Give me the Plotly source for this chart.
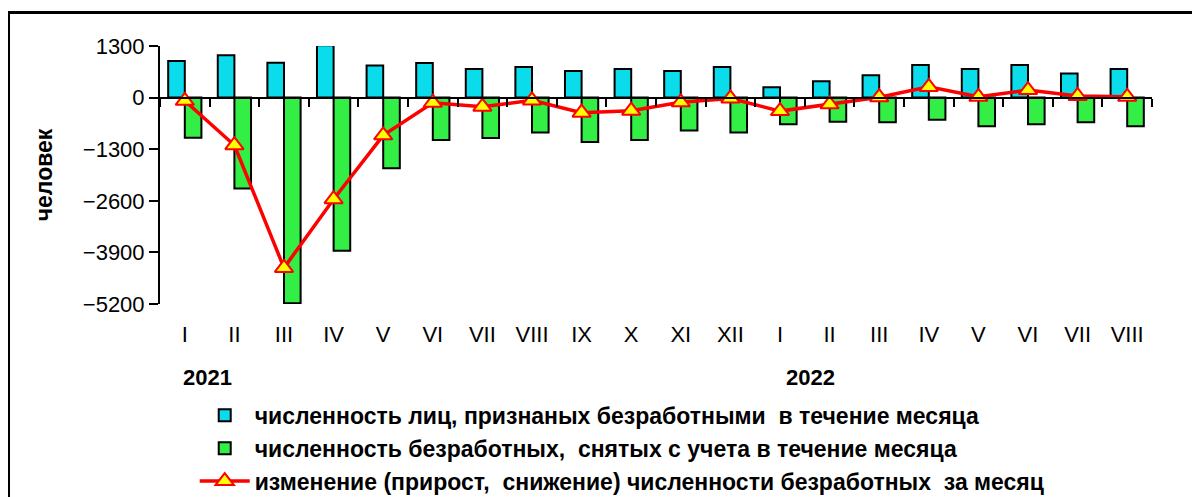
import plotly.graph_objects as go

months = ["I", "II", "III", "IV", "V", "VI", "VII", "VIII", "IX", "X", "XI", "XII",
          "I", "II", "III", "IV", "V", "VI", "VII", "VIII"]
years = ["2021", "2022"]

registered = [920, 1070, 880, 1320, 810, 870, 720, 770, 670, 720, 670, 770,
              260, 410, 560, 820, 720, 820, 610, 720]
removed = [-1010, -2290, -5180, -3860, -1780, -1070, -1020, -880, -1120, -1070, -830, -880,
           -670, -610, -620, -560, -720, -670, -620, -720]
change = [-80, -1200, -4290, -2560, -950, -130, -230, -70, -380, -330, -120, -20,
          -340, -170, 10, 270, 20, 190, 40, 20]

name_reg = "численность лиц, признаных безработными  в течение месяца"
name_rem = "численность безработных,  снятых с учета в течение месяца"
name_chg = "изменение (прирост,  снижение) численности безработных  за месяц"

ytick_vals = [1300, 0, -1300, -2600, -3900, -5200]

xpos = list(range(len(months)))
n = len(months)

fig = go.Figure()
fig.add_trace(go.Bar(x=xpos, y=registered, name=name_reg,
                     marker=dict(color="#0ADCEC", line=dict(color="black", width=2))))
fig.add_trace(go.Bar(x=xpos, y=removed, name=name_rem,
                     marker=dict(color="#33EE44", line=dict(color="black", width=2))))
fig.add_trace(go.Scatter(x=xpos, y=change, name=name_chg, xaxis="x2",
                         mode="lines+markers",
                         line=dict(color="#FF0000", width=3.5),
                         marker=dict(symbol="triangle-up", size=16, color="#FFFF00",
                                     line=dict(color="#FF0000", width=2))))

font_main = dict(family="Arial", size=22, color="black")

fig.update_layout(
    width=1192, height=489,
    margin=dict(l=152, r=48, t=38, b=193, autoexpand=False),
    paper_bgcolor="white", plot_bgcolor="white",
    barmode="group", bargap=0.33, bargroupgap=0,
    showlegend=True,
    legend=dict(x=0.035, y=-0.348, xanchor="left", yanchor="top",
                font=dict(family="Arial", size=23, color="black", weight="bold"),
                itemwidth=50, tracegroupgap=0, bgcolor="rgba(0,0,0,0)"),
    xaxis=dict(range=[-0.5, n - 0.5], tickvals=xpos, ticktext=months,
               showline=False, showgrid=False, zeroline=False,
               ticks="outside", ticklen=11, tickcolor="rgba(0,0,0,0)",
               tickfont=font_main),
    xaxis2=dict(overlaying="x", anchor="free", position=0.8,
                range=[-0.5, n - 0.5], tickvals=[i - 0.5 for i in range(n + 1)],
                showticklabels=False, showline=True, linecolor="black", linewidth=2,
                ticks="outside", ticklen=8, tickwidth=2, tickcolor="black",
                showgrid=False, zeroline=False),
    yaxis=dict(range=[-5200, 1300], tickvals=ytick_vals,
               showline=True, linecolor="black", linewidth=2,
               ticks="outside", ticklen=9, tickwidth=2, tickcolor="black",
               showgrid=False, zeroline=False, tickfont=font_main,
               title=dict(text="человек", standoff=24,
                          font=dict(family="Arial", size=23, color="black", weight="bold"))),
)

fig.add_annotation(text="<b>" + years[0] + "</b>", xref="paper", yref="paper",
                   x=0.048, y=-0.283, xanchor="center", yanchor="middle",
                   showarrow=False, font=font_main)
fig.add_annotation(text="<b>" + years[1] + "</b>", xref="paper", yref="paper",
                   x=0.656, y=-0.283, xanchor="center", yanchor="middle",
                   showarrow=False, font=font_main)

fig.add_shape(type="rect", xref="paper", yref="paper",
              x0=-0.1527, x1=1.2, y0=-1.0, y1=1.13,
              line=dict(color="black", width=3), fillcolor="rgba(0,0,0,0)", layer="below")

fig.write_html("out.html")
